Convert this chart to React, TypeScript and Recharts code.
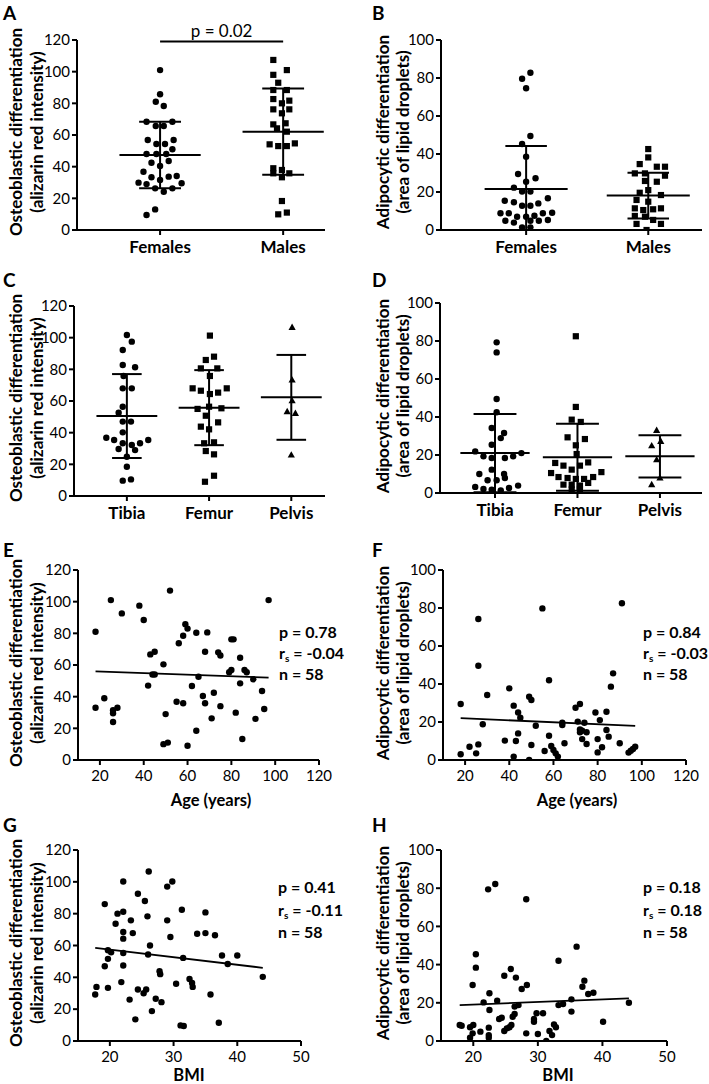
import React from 'react';
import { ScatterChart, Scatter, XAxis, YAxis, ReferenceLine } from 'recharts';

type Pt = [number, number];

// ---------- values ----------
const sexLabels = ['Females', 'Males'];
const siteLabels = ['Tibia', 'Femur', 'Pelvis'];

// [column position (1 = first group, with jitter), value]
const osteoFemales: Pt[] = [
  [1.0, 101], [1.0, 85.7], [0.965, 81], [1.03, 78.3], [0.89, 68.4], [1.1, 68.4], [0.965, 65.7], [1.03, 65.7],
  [0.9, 56.8], [1.11, 56.8], [0.97, 54.3], [1.04, 54.3], [0.89, 48], [0.97, 48], [1.05, 48], [1.1, 51],
  [0.93, 42.5], [1.07, 43.6], [1.0, 40.4], [0.865, 36.8], [0.93, 33.3], [1.0, 31.6], [1.07, 33.7], [1.135, 34.1],
  [0.825, 29.9], [0.89, 29], [1.175, 29.5], [0.96, 26.3], [1.03, 24.2], [1.1, 26.3], [0.96, 13], [0.89, 9.5],
];
const osteoMales: Pt[] = [
  [1.92, 107.4], [2.03, 101], [1.92, 98], [1.96, 93], [1.92, 88.4], [2.03, 88.4], [1.92, 82.7], [2.05, 81.7],
  [1.99, 80], [1.92, 76.2], [2.05, 76.2], [1.99, 73.7], [1.92, 66.7], [2.02, 67.4], [1.95, 64.2], [2.03, 62.1],
  [1.89, 54.1], [1.96, 53], [2.03, 53], [2.095, 54.7], [1.92, 39], [1.99, 37.9], [1.92, 35.8], [2.05, 35.8],
  [1.99, 33.3], [1.99, 18.3], [1.96, 9.9], [2.03, 11],
];
const osteoSexMean = [47.4, 62.1];
const osteoSexSd = [21.0, 27.2];

const adipoFemales: Pt[] = [
  [1.035, 82.8], [0.967, 79.6], [1.0, 74.6], [1.035, 49.5], [0.967, 45.3], [1.0, 38.6], [0.934, 29.5], [1.077, 27.2],
  [1.0, 25.4], [0.9, 22.3], [0.967, 20.2], [1.035, 20.2], [0.825, 15.4], [0.9, 14.6], [0.967, 12.8], [1.035, 12.8],
  [1.1, 14], [1.178, 16.7], [0.79, 8.8], [0.858, 8.8], [0.926, 7], [1.0, 7], [1.068, 7.5], [1.137, 8.8],
  [1.213, 9.1], [0.83, 4.9], [0.9, 3.9], [1.035, 4.9], [1.104, 4.9], [1.178, 5.3], [0.967, 1.4], [1.035, 1.4],
];
const adipoMales: Pt[] = [
  [2.0, 42.6], [2.0, 38.2], [1.93, 34.7], [2.07, 33.3], [2.137, 33.3], [1.89, 29.8], [1.973, 29.8], [2.137, 28.6],
  [1.973, 25.8], [2.07, 25.4], [1.93, 19.6], [2.0, 21], [2.104, 18.4], [1.904, 15.8], [2.0, 14.9], [1.89, 11.4],
  [1.959, 10.5], [2.04, 10.9], [2.104, 11.4], [1.89, 7.4], [1.973, 7], [2.04, 5.3], [2.104, 3.2], [1.904, 3.2],
  [1.986, 0],
];
const adipoSexMean = [21.6, 18.1];
const adipoSexSd = [22.6, 12.0];

const osteoTibia: Pt[] = [
  [1.0, 101.7], [1.06, 97.5], [0.95, 92.2], [0.95, 82.7], [1.1, 81.3], [0.96, 75.8], [0.95, 68], [1.06, 68],
  [0.95, 56.4], [0.9, 52.6], [0.95, 47], [1.05, 47], [0.95, 40.2], [0.75, 36.8], [0.845, 35.4], [0.95, 33.3],
  [1.06, 32.2], [1.16, 33.3], [1.26, 35.4], [0.9, 29.7], [1.1, 29], [1.0, 24.8], [1.0, 18.5], [0.95, 9.7],
  [1.05, 10.5],
];
const osteoFemur: Pt[] = [
  [2.01, 101.3], [2.06, 88], [1.96, 85.9], [1.9, 80.6], [2.1, 80.6], [2.01, 75.8], [1.8, 68], [1.9, 66.5],
  [2.01, 64.4], [2.11, 65.3], [2.215, 68], [1.86, 55], [2.0, 56.4], [1.96, 50.7], [2.15, 55.4], [1.9, 43.8],
  [2.0, 42.1], [2.11, 46.5], [1.94, 33.3], [2.06, 33.9], [1.96, 28.4], [2.06, 26.3], [2.06, 12.8], [1.95, 9],
];
const osteoPelvis: Pt[] = [[3.01, 106.5], [3.01, 73.3], [3.01, 60.2], [2.95, 53.3], [3.05, 52.2], [3.0, 25.9]];
const osteoSiteMean = [50.5, 55.8, 62.3];
const osteoSiteSd = [26.5, 23.7, 26.8];

const adipoTibia: Pt[] = [
  [1.02, 79.3], [1.02, 74], [1.02, 49.5], [1.02, 42.5], [0.96, 34.2], [1.11, 31.6], [1.07, 28.9], [0.96, 25.4],
  [0.76, 21.9], [0.86, 19.3], [0.96, 18.4], [1.12, 18.4], [1.22, 19.3], [1.32, 21], [0.81, 10], [0.96, 12.3],
  [1.11, 10], [0.91, 6.7], [1.02, 6.7], [1.12, 7.9], [0.76, 3.2], [0.86, 2.1], [0.96, 1.8], [1.07, 1.4],
  [1.17, 2.6], [1.28, 3.9], [0.96, 0],
];
const adipoFemur: Pt[] = [
  [1.98, 82.5], [1.98, 45.3], [1.93, 38.6], [2.04, 37.4], [1.88, 29.3], [2.09, 28.4], [1.98, 25.1], [1.99, 20.5],
  [1.73, 15.8], [1.83, 14.4], [1.93, 12.3], [2.03, 14.4], [2.13, 16.1], [1.68, 10.5], [1.77, 8.4], [1.88, 7.9],
  [1.98, 7.4], [2.08, 7.4], [2.19, 8.4], [2.29, 11], [1.83, 4.4], [1.93, 4.4], [2.03, 3.9], [2.13, 5.3],
  [1.93, 1.8], [2.03, 2.1],
];
const adipoPelvis: Pt[] = [[2.96, 33], [3.01, 27.2], [2.9, 24.9], [2.96, 17.5], [3.0, 7.9], [2.9, 4.4]];
const adipoSiteMean = [21.0, 18.8, 19.3];
const adipoSiteSd = [20.6, 17.6, 11.1];

// [age or BMI, value]
const osteoAge: Pt[] = [
  [18, 81], [18, 33], [22, 39], [25, 101], [26, 31.5], [26, 29.5], [26, 24], [28, 33], [30, 92.6], [38, 97.5],
  [40, 88.4], [43, 66.7], [44, 54], [45, 54], [42, 47], [45, 68.4], [49, 60.4], [50, 29], [49, 10], [51, 11],
  [52, 107], [56, 73.7], [55, 36.8], [58, 78.5], [59, 85.7], [60, 83], [58, 35.8], [60, 9], [64, 80.4], [65, 52.6],
  [62, 46.7], [64, 18.5], [69, 80.6], [68, 68.4], [67, 40.4], [68, 35.8], [72, 42.5], [71, 26.3], [74, 68], [75, 66],
  [75, 34], [80, 76.2], [81, 76.2], [79, 55.4], [80, 56.8], [84, 64.6], [84, 48.4], [86, 56.8], [87, 55.4], [82, 29.9],
  [85, 13.3], [90, 51], [91, 26], [94, 43.6], [95, 32.2], [97, 101],
];
const adipoAge: Pt[] = [
  [18, 29.5], [18, 3], [22, 7], [25, 3.5], [26, 74.2], [26, 49.6], [26, 8.2], [28, 18.8], [30, 34.2], [38, 10.2],
  [40, 37.7], [42, 28.6], [42, 1.8], [43, 10], [44, 25], [45, 22.3], [44, 14], [49, 33.3], [50, 31.6], [49, 0],
  [50, 7.9], [52, 18], [55, 79.8], [56, 4.7], [58, 42], [58, 12.8], [59, 7.4], [60, 5.3], [61, 3.5], [62, 1.8],
  [64, 19.6], [64, 18.4], [65, 8.8], [71, 20.2], [72, 16.1], [73, 15.4], [72, 14.6], [70, 27.5], [72, 29.5], [73, 11],
  [74, 19.6], [75, 14.6], [75, 8.4], [79, 25], [80, 11], [80, 4], [81, 21], [82, 6.7], [84, 25.4], [84, 15.8],
  [85, 12.3], [86, 38.6], [87, 45.6], [91, 82.5], [90, 8.8], [94, 3.9], [95, 4.9], [96, 5.8], [97, 7],
];
const osteoBmi: Pt[] = [
  [17.7, 29.2], [17.9, 34], [19.2, 86], [19.2, 47], [19.7, 51.6], [19.7, 57], [19.7, 33.4], [20.2, 55.7],
  [20.9, 73.7], [21.2, 80], [22.1, 81.2], [22.1, 100.2], [22.1, 68.5], [22.1, 64.3], [22.1, 55.3], [22.1, 47.4],
  [21.8, 37], [23.3, 75.8], [23.6, 67.8], [23.1, 26], [24, 13.6], [24.4, 92.5], [24.4, 32.4], [25.3, 30],
  [25.5, 88], [25.7, 32.4], [25.9, 78.3], [26.1, 106.5], [26, 54.3], [26.3, 60], [26.6, 18.8], [27.2, 26.5],
  [27.8, 43.8], [27.9, 42], [28.1, 24.4], [29, 97], [29, 75.8], [29.5, 65.3], [29.8, 100.2], [30.4, 36],
  [31.3, 82.5], [31.1, 9.8], [31.6, 9.4], [31.5, 52.2], [32.5, 39], [32.9, 36.5], [33, 34], [33.7, 67.4],
  [35, 80.8], [35, 67.8], [35.8, 29.2], [36.5, 66.4], [37.1, 11.5], [37.6, 53.7], [38.5, 48.4], [40, 53.7],
  [44, 40.3],
];
const adipoBmi: Pt[] = [
  [17.9, 8.4], [18.2, 8], [19.5, 1.7], [19.5, 7.2], [19.9, 4], [20, 8.4], [19.9, 29.3], [20.4, 38.4],
  [20.4, 45.4], [21.1, 4.9], [21.6, 20.2], [22.3, 79.4], [22.5, 25], [22.5, 16.2], [22.4, 7], [22.4, 3.1],
  [22.4, 1.7], [23.4, 82.2], [23.7, 21.1], [24, 11.5], [24.4, 12.2], [24.8, 34.2], [24.8, 5.2], [25.2, 6.6],
  [25.6, 7.2], [25.9, 8.4], [25.8, 37.7], [26.1, 12.7], [26.4, 14.1], [26.6, 33.2], [26.4, 18], [27, 18.8],
  [27.5, 27.2], [28.3, 29.3], [28.2, 74.2], [28.2, 4], [29.4, 11.5], [29.4, 10.1], [29.8, 14.5], [30, 3.7],
  [30.8, 14.5], [31.3, 0], [31.8, 5.2], [32.2, 3.1], [32.5, 8.7], [32.8, 7.2], [33.2, 42], [33.2, 18.8],
  [33.9, 19.4], [35.2, 21.8], [35.2, 15.4], [36, 49.4], [36.9, 28.4], [37.2, 31.6], [37.8, 24.6], [38.6, 25.3],
  [40.1, 10.1], [44.1, 20],
];

// regression lines, end points
const fitOsteoAge: Pt[] = [[18, 56], [97, 52]];
const fitAdipoAge: Pt[] = [[18, 22], [97, 18]];
const fitOsteoBmi: Pt[] = [[17.7, 58.5], [44, 46]];
const fitAdipoBmi: Pt[] = [[17.9, 18.8], [44.1, 22.3]];

// [p, r_s, n]
const statsOsteoAge = ['0.78', '-0.04', '58'];
const statsAdipoAge = ['0.84', '-0.03', '58'];
const statsOsteoBmi = ['0.41', '-0.11', '58'];
const statsAdipoBmi = ['0.18', '0.18', '58'];

const osteoTitle = ['Osteoblastic differentiation', '(alizarin red intensity)'];
const adipoTitle = ['Adipocytic differentiation', '(area of lipid droplets)'];

const ticks120 = [0, 20, 40, 60, 80, 100, 120];
const ticks100 = [0, 20, 40, 60, 80, 100];
const ageTicks = [20, 40, 60, 80, 100, 120];
const bmiTicks = [20, 30, 40, 50];

// ---------- drawing ----------
const axisStroke = { stroke: '#000', strokeWidth: 2 };
const toObj = (pts: Pt[]) => pts.map(([x, y]) => ({ x, y }));

const Dot = (p: any) => <circle cx={p.cx} cy={p.cy} r={3.2} fill="#000" />;
const Square = (p: any) => <rect x={p.cx - 3.1} y={p.cy - 3.1} width={6.2} height={6.2} fill="#000" />;
const Tri = (p: any) => (
  <polygon points={`${p.cx},${p.cy - 3.8} ${p.cx + 3.6},${p.cy + 2.6} ${p.cx - 3.6},${p.cy + 2.6}`} fill="#000" />
);

type Box = { left: number; top: number; width: number; height: number; x0: number; x1: number; y0: number; y1: number };

function frame(b: Box) {
  return {
    margin: { top: b.y0 - b.top, right: b.left + b.width - b.x1, left: 0, bottom: 0 },
    yWidth: b.x0 - b.left,
    xHeight: b.top + b.height - b.y1,
  };
}

function ColumnPanel(props: {
  box: Box; xDomain: number[]; yTicks: number[]; labels: string[];
  groups: { pts: Pt[]; shape: any }[]; means: number[]; sds: number[];
  meanHalf: number; capHalf: number; children?: any;
}) {
  const { box, xDomain, yTicks, labels, groups, means, sds, meanHalf, capHalf } = props;
  const f = frame(box);
  const bars: any[] = [];
  means.forEach((m, i) => {
    const c = i + 1;
    const s = sds[i];
    const seg = (a: Pt, b: Pt, k: string) => (
      <ReferenceLine key={`${k}${i}`} segment={[{ x: a[0], y: a[1] }, { x: b[0], y: b[1] }]}
        stroke="#000" strokeWidth={2} ifOverflow="hidden" />
    );
    bars.push(seg([c - meanHalf, m], [c + meanHalf, m], 'm'));
    bars.push(seg([c, m - s], [c, m + s], 'v'));
    bars.push(seg([c - capHalf, m + s], [c + capHalf, m + s], 'u'));
    bars.push(seg([c - capHalf, m - s], [c + capHalf, m - s], 'l'));
  });
  return (
    <div style={{ position: 'absolute', left: box.left, top: box.top }}>
      <ScatterChart width={box.width} height={box.height} margin={f.margin}>
        <XAxis type="number" dataKey="x" domain={xDomain} allowDataOverflow ticks={labels.map((_, i) => i + 1)}
          interval={0} tickFormatter={(v: number) => labels[Math.round(v) - 1]} height={f.xHeight}
          axisLine={axisStroke} tickLine={axisStroke} tickSize={5} tickMargin={6}
          tick={{ fill: '#000', fontSize: 17, fontWeight: 700 }} />
        <YAxis type="number" dataKey="y" domain={[0, yTicks[yTicks.length - 1]]} allowDataOverflow ticks={yTicks}
          interval={0} width={f.yWidth} axisLine={axisStroke} tickLine={axisStroke} tickSize={5} tickMargin={2}
          tick={{ fill: '#000', fontSize: 15 }} />
        {bars}
        {props.children}
        {groups.map((g, i) => (
          <Scatter key={i} data={toObj(g.pts)} shape={g.shape} isAnimationActive={false} />
        ))}
      </ScatterChart>
    </div>
  );
}

function XYPanel(props: { box: Box; xDomain: number[]; xTicks: number[]; yTicks: number[]; pts: Pt[]; fit: Pt[] }) {
  const { box, xDomain, xTicks, yTicks, pts, fit } = props;
  const f = frame(box);
  return (
    <div style={{ position: 'absolute', left: box.left, top: box.top }}>
      <ScatterChart width={box.width} height={box.height} margin={f.margin}>
        <XAxis type="number" dataKey="x" domain={xDomain} allowDataOverflow ticks={xTicks} interval={0}
          height={f.xHeight} axisLine={axisStroke} tickLine={axisStroke} tickSize={5} tickMargin={5}
          tick={{ fill: '#000', fontSize: 15 }} />
        <YAxis type="number" dataKey="y" domain={[0, yTicks[yTicks.length - 1]]} allowDataOverflow ticks={yTicks}
          interval={0} width={f.yWidth} axisLine={axisStroke} tickLine={axisStroke} tickSize={5} tickMargin={2}
          tick={{ fill: '#000', fontSize: 15 }} />
        <ReferenceLine segment={[{ x: fit[0][0], y: fit[0][1] }, { x: fit[1][0], y: fit[1][1] }]}
          stroke="#000" strokeWidth={1.8} ifOverflow="hidden" />
        <Scatter data={toObj(pts)} shape={Dot} isAnimationActive={false} />
      </ScatterChart>
    </div>
  );
}

const boxA: Box = { left: 0, top: 0, width: 354, height: 270, x0: 77, x1: 325, y0: 40, y1: 230 };
const boxB: Box = { left: 354, top: 0, width: 355, height: 270, x0: 441, x1: 702, y0: 40, y1: 230 };
const boxC: Box = { left: 0, top: 270, width: 354, height: 270, x0: 74, x1: 325, y0: 306, y1: 496 };
const boxD: Box = { left: 354, top: 270, width: 355, height: 270, x0: 440, x1: 702, y0: 303, y1: 493 };
const boxE: Box = { left: 0, top: 540, width: 354, height: 275, x0: 78, x1: 319, y0: 570, y1: 760 };
const boxF: Box = { left: 354, top: 540, width: 355, height: 275, x0: 443, x1: 686, y0: 570, y1: 760 };
const boxG: Box = { left: 0, top: 815, width: 354, height: 269, x0: 78, x1: 301, y0: 850, y1: 1041 };
const boxH: Box = { left: 354, top: 815, width: 355, height: 269, x0: 441, x1: 667, y0: 850, y1: 1041 };

function YTitle({ lines, b1, b2, cy }: { lines: string[]; b1: number; b2: number; cy: number }) {
  return (
    <g fontSize={17} fontWeight={700} textAnchor="middle">
      <text transform={`translate(${b1},${cy}) rotate(-90)`}>{lines[0]}</text>
      <text transform={`translate(${b2},${cy}) rotate(-90)`}>{lines[1]}</text>
    </g>
  );
}

function Stats({ s, x, ys }: { s: string[]; x: number; ys: number[] }) {
  return (
    <g fontSize={16} fontWeight={700}>
      <text x={x} y={ys[0]}>{`p = ${s[0]}`}</text>
      <text x={x} y={ys[1]}>
        r<tspan fontSize={10} dy={3}>s</tspan><tspan dy={-3}>{` = ${s[1]}`}</tspan>
      </text>
      <text x={x} y={ys[2]}>{`n = ${s[2]}`}</text>
    </g>
  );
}

const letters: [string, number, number][] = [
  ['A', 3, 19.5], ['B', 372, 19.5], ['C', 3, 287], ['D', 372, 287],
  ['E', 3, 557], ['F', 372, 557], ['G', 3, 832], ['H', 372, 832],
];

export default function App() {
  return (
    <div style={{ position: 'absolute', left: 0, top: 0, width: 709, height: 1084, background: '#fff', fontFamily: 'Lato, sans-serif' }}>
      <ColumnPanel box={boxA} xDomain={[0.325, 2.34]} yTicks={ticks120} labels={sexLabels}
        groups={[{ pts: osteoFemales, shape: Dot }, { pts: osteoMales, shape: Square }]}
        means={osteoSexMean} sds={osteoSexSd} meanHalf={0.33} capHalf={0.17}>
        <ReferenceLine segment={[{ x: 1, y: 119 }, { x: 2, y: 119 }]} stroke="#000" strokeWidth={2} ifOverflow="visible"
          label={{ value: 'p = 0.02', position: 'top', fill: '#000', fontSize: 17 }} />
      </ColumnPanel>
      <ColumnPanel box={boxB} xDomain={[0.303, 2.44]} yTicks={ticks100} labels={sexLabels}
        groups={[{ pts: adipoFemales, shape: Dot }, { pts: adipoMales, shape: Square }]}
        means={adipoSexMean} sds={adipoSexSd} meanHalf={0.34} capHalf={0.17} />
      <ColumnPanel box={boxC} xDomain={[0.357, 3.41]} yTicks={ticks120} labels={siteLabels}
        groups={[{ pts: osteoTibia, shape: Dot }, { pts: osteoFemur, shape: Square }, { pts: osteoPelvis, shape: Tri }]}
        means={osteoSiteMean} sds={osteoSiteSd} meanHalf={0.37} capHalf={0.18} />
      <ColumnPanel box={boxD} xDomain={[0.333, 3.51]} yTicks={ticks100} labels={siteLabels}
        groups={[{ pts: adipoTibia, shape: Dot }, { pts: adipoFemur, shape: Square }, { pts: adipoPelvis, shape: Tri }]}
        means={adipoSiteMean} sds={adipoSiteSd} meanHalf={0.42} capHalf={0.26} />
      <XYPanel box={boxE} xDomain={[10, 120]} xTicks={ageTicks} yTicks={ticks120} pts={osteoAge} fit={fitOsteoAge} />
      <XYPanel box={boxF} xDomain={[10, 120]} xTicks={ageTicks} yTicks={ticks100} pts={adipoAge} fit={fitAdipoAge} />
      <XYPanel box={boxG} xDomain={[15, 50]} xTicks={bmiTicks} yTicks={ticks120} pts={osteoBmi} fit={fitOsteoBmi} />
      <XYPanel box={boxH} xDomain={[15, 50]} xTicks={bmiTicks} yTicks={ticks100} pts={adipoBmi} fit={fitAdipoBmi} />

      <svg width={709} height={1084} style={{ position: 'absolute', left: 0, top: 0, pointerEvents: 'none' }}>
        <g fontSize={19} fontWeight={700}>
          {letters.map(([t, x, y]) => <text key={t} x={x} y={y}>{t}</text>)}
        </g>
        <YTitle lines={osteoTitle} b1={21.5} b2={42.5} cy={132} />
        <YTitle lines={adipoTitle} b1={388.5} b2={409} cy={132} />
        <YTitle lines={osteoTitle} b1={21.5} b2={42.5} cy={398} />
        <YTitle lines={adipoTitle} b1={388.5} b2={409} cy={396} />
        <YTitle lines={osteoTitle} b1={21.5} b2={42.5} cy={663} />
        <YTitle lines={adipoTitle} b1={388.5} b2={409} cy={663} />
        <YTitle lines={osteoTitle} b1={21.5} b2={42.5} cy={943} />
        <YTitle lines={adipoTitle} b1={388.5} b2={409} cy={943} />
        <Stats s={statsOsteoAge} x={279} ys={[638, 659, 680]} />
        <Stats s={statsAdipoAge} x={643} ys={[638, 659, 680]} />
        <Stats s={statsOsteoBmi} x={278} ys={[893, 915.5, 938]} />
        <Stats s={statsAdipoBmi} x={643} ys={[893, 915.5, 938]} />
        <g fontSize={16.5} fontWeight={700} textAnchor="middle">
          <text x={211} y={806}>Age (years)</text>
          <text x={577} y={806}>Age (years)</text>
          <text x={189} y={1081}>BMI</text>
          <text x={558} y={1081}>BMI</text>
        </g>
      </svg>
    </div>
  );
}
